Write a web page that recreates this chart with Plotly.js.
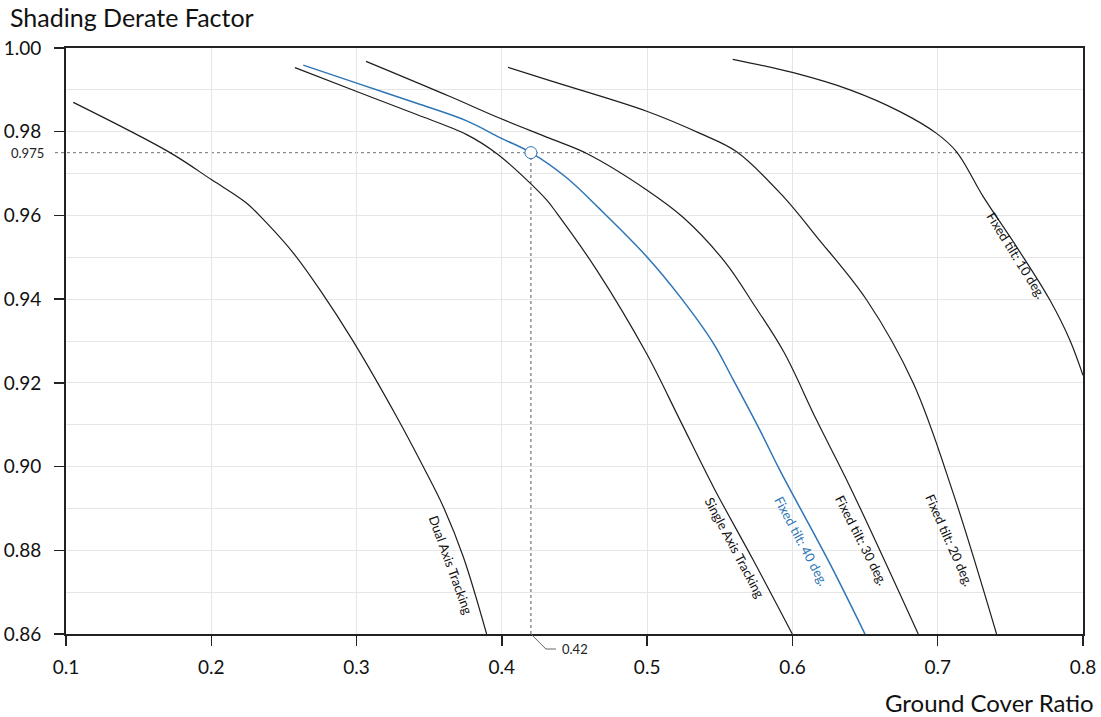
<!DOCTYPE html>
<html>
<head>
<meta charset="utf-8">
<script src="https://cdn.plot.ly/plotly-3.0.1.min.js"></script>
<style>html,body{margin:0;padding:0;background:#fff;}#chart{width:1101px;height:717px;}</style>
</head>
<body>
<div id="chart"></div>
<script>
// ---- data ----
const dualX   = [0.105, 0.1716, 0.2003, 0.2244, 0.2381, 0.2565, 0.2748, 0.2972, 0.3276, 0.3460, 0.3597, 0.3735, 0.3895];
const dualY   = [0.9870, 0.9750, 0.9685, 0.9629, 0.9582, 0.9510, 0.9422, 0.9302, 0.9119, 0.8999, 0.8904, 0.8784, 0.8600];

const singleX = [0.2576, 0.3001, 0.3414, 0.3758, 0.3964, 0.4171, 0.4308, 0.4377, 0.4652, 0.4996, 0.5226, 0.5455, 0.5731, 0.5999];
const singleY = [0.9953, 0.9896, 0.9841, 0.9793, 0.9748, 0.9685, 0.9637, 0.9606, 0.9470, 0.9270, 0.9111, 0.8952, 0.8776, 0.8600];

const tilt40X = [0.2633, 0.3001, 0.3414, 0.3758, 0.3987, 0.4200, 0.4446, 0.4675, 0.4996, 0.5226, 0.5455, 0.5593, 0.5776, 0.5914, 0.6258, 0.6499];
const tilt40Y = [0.9959, 0.9916, 0.9868, 0.9826, 0.9786, 0.9750, 0.9690, 0.9615, 0.9502, 0.9406, 0.9295, 0.9207, 0.9087, 0.8991, 0.8768, 0.8600];

const tilt30X = [0.3065, 0.3643, 0.3987, 0.4331, 0.4584, 0.4997, 0.5249, 0.5535, 0.5742, 0.5942, 0.6166, 0.6396, 0.6866];
const tilt30Y = [0.9968, 0.9884, 0.9832, 0.9784, 0.9748, 0.9661, 0.9595, 0.9489, 0.9383, 0.9273, 0.9111, 0.8952, 0.8600];

const tilt20X = [0.4042, 0.4331, 0.4997, 0.5364, 0.5616, 0.5938, 0.6167, 0.6511, 0.6832, 0.7107, 0.7405];
const tilt20Y = [0.9954, 0.9922, 0.9849, 0.9796, 0.9752, 0.9645, 0.9549, 0.9398, 0.9199, 0.8936, 0.8600];

const tilt10X = [0.5589, 0.6006, 0.6396, 0.6740, 0.6992, 0.7130, 0.7313, 0.7543, 0.7772, 0.7910, 0.8000];
const tilt10Y = [0.9973, 0.9941, 0.9900, 0.9848, 0.9796, 0.9752, 0.9645, 0.9525, 0.9398, 0.9302, 0.9218];

const markerX = [0.42];
const markerY = [0.975];

const curveNames  = ["Dual Axis Tracking", "Single Axis Tracking", "Fixed tilt: 40 deg.", "Fixed tilt: 30 deg.", "Fixed tilt: 20 deg.", "Fixed tilt: 10 deg."];
const labelX      = [0.3650, 0.5600, 0.6062, 0.6474, 0.7080, 0.7545];
const labelY      = [0.8765, 0.8807, 0.8822, 0.8824, 0.8824, 0.9504];
const labelAngle  = [70, 62, 62, 63, 66, 58];

const xTickVals = [0.1, 0.2, 0.3, 0.4, 0.5, 0.6, 0.7, 0.8];
const xTickText = ["0.1", "0.2", "0.3", "0.4", "0.5", "0.6", "0.7", "0.8"];
const yTickVals = [0.86, 0.88, 0.90, 0.92, 0.94, 0.96, 0.98, 1.00];
const yTickText = ["0.86", "0.88", "0.90", "0.92", "0.94", "0.96", "0.98", "1.00"];

// ---- styling ----
const BLACK = "#1e1e1e";
const BLUE = "#2e75b6";
const FONT = "Lato, 'Open Sans', sans-serif";
const xRange = [0.1, 0.8];
const yRange = [0.86, 1.0];

const seriesX = [dualX, singleX, tilt40X, tilt30X, tilt20X, tilt10X];
const seriesY = [dualY, singleY, tilt40Y, tilt30Y, tilt20Y, tilt10Y];
const colors = [BLACK, BLACK, BLUE, BLACK, BLACK, BLACK];

const traces = seriesX.map((xs, i) => ({
  type: "scatter", mode: "lines", x: xs, y: seriesY[i], name: curveNames[i],
  line: {color: colors[i], width: i === 2 ? 1.5 : 1.2, shape: "spline", smoothing: 1.0},
  hoverinfo: "skip", showlegend: false
}));

traces.push({
  type: "scatter", mode: "markers", x: markerX, y: markerY,
  marker: {size: 12, color: "#ffffff", line: {color: BLUE, width: 1}},
  hoverinfo: "skip", showlegend: false
});

const plotW = 1101 - 66 - 18;
const plotH = 717 - 48 - 83;
const dxUnit = (xRange[1] - xRange[0]) / plotW; // data per px

const annotations = curveNames.map((t, i) => ({
  x: labelX[i], y: labelY[i], xref: "x", yref: "y", text: t, showarrow: false,
  textangle: labelAngle[i], font: {family: FONT, size: 13, color: i === 2 ? BLUE : "#111"}
}));
annotations.push({
  x: -20 / plotW, y: markerY[0], xref: "paper", yref: "y", text: String(markerY[0]),
  xanchor: "right", yanchor: "middle", showarrow: false,
  font: {family: FONT, size: 13, color: "#222"}
});
annotations.push({
  x: markerX[0] + 29 * dxUnit, y: -15 / plotH, xref: "x", yref: "paper", text: String(markerX[0]),
  xanchor: "left", yanchor: "middle", showarrow: false,
  font: {family: FONT, size: 13, color: "#222"}
});
annotations.push({
  x: (1096 - 66) / plotW, y: -(702 - 634) / plotH, xref: "paper", yref: "paper",
  text: "Ground Cover Ratio", xanchor: "right", yanchor: "middle", showarrow: false,
  font: {family: FONT, size: 24, color: "#111"}
});

const shapes = [
  {type: "line", xref: "paper", yref: "y", x0: -11 / plotW, x1: 1, y0: markerY[0], y1: markerY[0],
   line: {color: "#8a8a8a", width: 1.3, dash: "dot"}, layer: "below"},
  {type: "line", xref: "x", yref: "y", x0: markerX[0], x1: markerX[0], y0: yRange[0], y1: markerY[0],
   line: {color: "#555", width: 1, dash: "dot"}, layer: "below"},
  {type: "path", xref: "x", yref: "paper",
   path: "M " + markerX[0] + ",0 L " + (markerX[0] + 15 * dxUnit) + "," + (-15 / plotH) +
         " L " + (markerX[0] + 25 * dxUnit) + "," + (-15 / plotH),
   line: {color: "#666", width: 1}}
];

const gridColor = "#e6e6e6";
const layout = {
  width: 1101, height: 717,
  margin: {l: 66, r: 18, t: 48, b: 83, pad: 0},
  paper_bgcolor: "#fff", plot_bgcolor: "#fff",
  font: {family: FONT, color: "#111"},
  title: {text: "Shading Derate Factor", xref: "container", yref: "container",
          x: 10 / 1101, xanchor: "left", y: 1 - 18 / 717, yanchor: "middle",
          font: {family: FONT, size: 25, color: "#111"}},
  xaxis: {
    range: xRange, tickmode: "array", tickvals: xTickVals, ticktext: xTickText,
    ticks: "outside", ticklen: 10, tickwidth: 1.5, tickcolor: "#222",
    ticklabelstandoff: 5,
    showline: true, linecolor: "#222", linewidth: 1.8, mirror: true,
    showgrid: true, gridcolor: gridColor, gridwidth: 1, zeroline: false,
    tickfont: {family: FONT, size: 19, color: "#111"}
  },
  yaxis: {
    range: yRange, tickmode: "array", tickvals: yTickVals, ticktext: yTickText,
    ticks: "outside", ticklen: 10, tickwidth: 1.5, tickcolor: "#222",
    ticklabelstandoff: 9,
    showline: true, linecolor: "#222", linewidth: 1.8, mirror: true,
    showgrid: true, gridcolor: gridColor, gridwidth: 1, zeroline: false,
    minor: {dtick: 0.01, tick0: 0.86, showgrid: true, gridcolor: gridColor, gridwidth: 1, ticks: ""},
    tickfont: {family: FONT, size: 19, color: "#111"}
  },
  shapes: shapes,
  annotations: annotations,
  showlegend: false
};

Plotly.newPlot("chart", traces, layout, {displayModeBar: false, staticPlot: true});
</script>
</body>
</html>
